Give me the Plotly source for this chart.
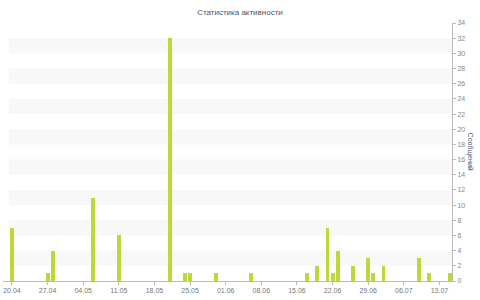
import plotly.graph_objects as go

dates = ["2014-04-20", "2014-04-27", "2014-04-28", "2014-05-06", "2014-05-11",
         "2014-05-21", "2014-05-24", "2014-05-25", "2014-05-30", "2014-06-06",
         "2014-06-17", "2014-06-19", "2014-06-21", "2014-06-22", "2014-06-23",
         "2014-06-26", "2014-06-29", "2014-06-30", "2014-07-02", "2014-07-09",
         "2014-07-11", "2014-07-15"]
messages = [7, 1, 4, 11, 6, 32, 1, 1, 1, 1, 1, 2, 7, 1, 4, 2, 3, 1, 2, 3, 1, 1]

y_ticks = list(range(0, 35, 2))
DAY = 86400000

fig = go.Figure()
fig.add_trace(go.Bar(x=dates, y=messages, width=0.78 * DAY,
                     marker=dict(color="#bcd93a", line=dict(width=0))))

# alternating background bands
for lo in range(2, 34, 4):
    fig.add_shape(type="rect", xref="paper", yref="y", x0=0.013, x1=1, y0=lo, y1=lo + 2,
                  fillcolor="#f8f8f8", line=dict(width=0), layer="below")

fig.update_layout(
    width=480, height=300,
    margin=dict(l=3, r=28, t=23, b=19),
    paper_bgcolor="white", plot_bgcolor="white",
    font=dict(family="Liberation Sans, Arial, sans-serif", size=7, color="#777"),
    title=dict(text="Статистика активности", x=0.5, xanchor="center", y=0.96, yanchor="middle",
               font=dict(size=8, color="#4d5666")),
    showlegend=False, bargap=0,
    xaxis=dict(type="date", range=["2014-04-18 06:00", "2014-07-15 11:00"],
               tick0="2014-04-20", dtick=7 * DAY, tickformat="%d.%m",
               showgrid=False, zeroline=False, showline=True, linecolor="#bbb", linewidth=1,
               ticks="outside", ticklen=3, tickcolor="#bbb", tickfont=dict(size=7, color="#777")),
    yaxis=dict(side="right", range=[0, 34], tickvals=y_ticks, showgrid=False, zeroline=False,
               showline=True, linecolor="#bbb", linewidth=1, ticks="outside", ticklen=3,
               tickcolor="#bbb", tickfont=dict(size=7, color="#888")),
    annotations=[dict(text="Сообщений", xref="paper", yref="paper", x=1.041, y=0.5,
                      xanchor="center", yanchor="middle", textangle=90, showarrow=False,
                      font=dict(size=7, color="#4d5a80"))],
)

fig.write_html("out.html")
